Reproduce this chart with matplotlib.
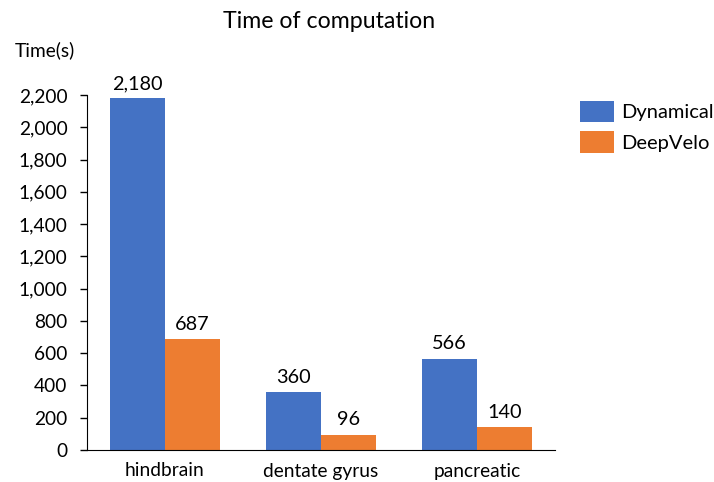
import matplotlib
matplotlib.use("Agg")
import matplotlib.pyplot as plt
import numpy as np

categories = ["hindbrain", "dentate gyrus", "pancreatic"]
dynamical = [2180, 360, 566]
deepvelo = [687, 96, 140]
yticks = [0, 200, 400, 600, 800, 1000, 1200, 1400, 1600, 1800, 2000, 2200]

plt.rcParams['font.family'] = ['Lato', 'DejaVu Sans']
fs = 13.8

fig = plt.figure(figsize=(7.14, 4.82), dpi=100)
ax = fig.add_axes([87 / 714, 1 - 450 / 482, (555 - 87) / 714, (450 - 95) / 482])

blue = "#4472C4"
orange = "#ED7D31"
x = np.arange(len(categories))
w = 0.353
b1 = ax.bar(x - w / 2, dynamical, w, color=blue, label="Dynamical")
b2 = ax.bar(x + w / 2, deepvelo, w, color=orange, label="DeepVelo")

for bars, vals in ((b1, dynamical), (b2, deepvelo)):
    for r, v in zip(bars, vals):
        ax.annotate(f"{v:,}", (r.get_x() + r.get_width() / 2, v),
                    xytext=(0, 4.5), textcoords="offset points",
                    ha="center", va="bottom", fontsize=14.3)

ax.set_xlim(-0.5, 2.5)
ax.set_ylim(0, 2200)
ax.set_yticks(yticks)
ax.set_yticklabels([f"{t:,}" for t in yticks], fontsize=fs)
ax.set_xticks(x)
ax.set_xticklabels(categories, fontsize=fs)
ax.tick_params(axis="x", length=0, pad=9)
ax.tick_params(axis="y", length=5, width=1, pad=9)
for s in ("top", "right"):
    ax.spines[s].set_visible(False)
ax.spines["left"].set_color("black")
ax.spines["bottom"].set_color("black")

fig.text(329 / 714, 1 - 21 / 482, "Time of computation", ha="center", va="center", fontsize=16.7)
fig.text(15 / 714, 1 - 50 / 482, "Time(s)", ha="left", va="center", fontsize=fs)

ax.legend(loc="upper left", bbox_to_anchor=(580 / 714, 1 - 101 / 482),
          bbox_transform=fig.transFigure, frameon=False, borderpad=0,
          borderaxespad=0, fontsize=14.5, handlelength=1.7, handleheight=1.25,
          handletextpad=0.35, labelspacing=0.45)

fig.savefig("out.png", dpi=100)
